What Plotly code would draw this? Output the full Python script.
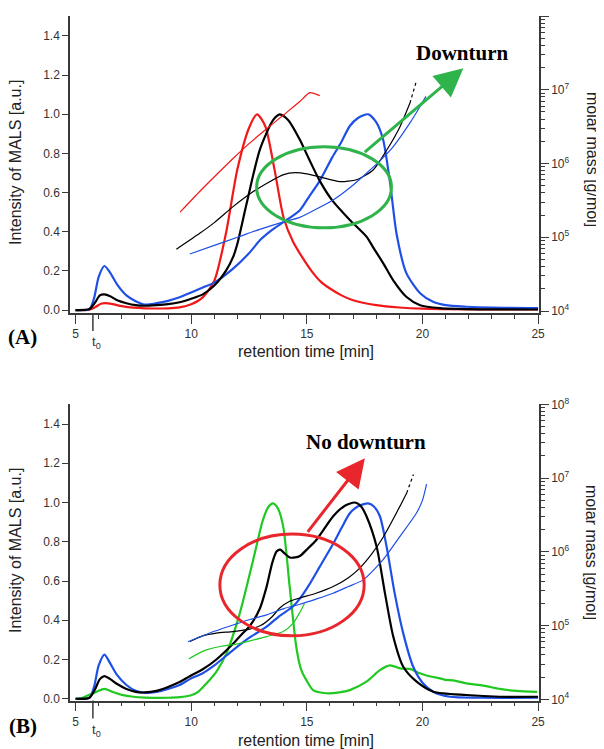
import plotly.graph_objects as go

# ---- Panel A: MALS intensity (left axis) ----
a_red_x = [5.0, 5.6, 5.85, 6.1, 6.3, 6.6, 7.0, 7.5, 8.0, 9.0, 9.5, 10.0, 10.5, 11.0, 11.5, 12.0, 12.5, 12.85,
           13.2, 13.6, 14.0, 14.4, 14.8, 15.2, 15.6, 16.0, 16.5, 17.0, 18.0, 19.0, 20.0, 22.0, 25.0]
a_red_y = [0.0, 0.002, 0.015, 0.032, 0.035, 0.03, 0.02, 0.012, 0.009, 0.009, 0.014, 0.03, 0.065, 0.15, 0.39, 0.72,
           0.93, 1.0, 0.94, 0.72, 0.47, 0.35, 0.27, 0.2, 0.145, 0.11, 0.075, 0.05, 0.025, 0.013, 0.007, 0.004, 0.003]

a_black_x = [5.0, 5.6, 5.85, 6.05, 6.25, 6.5, 6.8, 7.2, 7.6, 8.0, 8.5, 9.0, 9.5, 10.0, 10.5, 11.0, 11.5, 11.81,
             12.0, 12.39, 12.97, 13.54, 13.83, 14.2, 14.7, 15.1, 15.56, 16.1, 16.86, 17.58, 17.87, 18.3, 18.73,
             19.3, 19.9, 20.76, 22.0, 25.0]
a_black_y = [0.0, 0.005, 0.04, 0.075, 0.08, 0.07, 0.05, 0.035, 0.025, 0.022, 0.025, 0.03, 0.04, 0.058, 0.08, 0.125,
             0.2, 0.27, 0.34, 0.54, 0.82, 0.97, 1.0, 0.97, 0.87, 0.77, 0.66, 0.56, 0.46, 0.375, 0.32, 0.24, 0.153,
             0.068, 0.025, 0.01, 0.005, 0.003]

a_blue_x = [5.0, 5.6, 5.8, 6.0, 6.25, 6.5, 6.8, 7.2, 7.6, 8.0, 8.5, 9.0, 9.5, 10.0, 10.5, 11.0, 11.8, 12.5, 13.0,
            13.5, 14.0, 14.7, 15.1, 15.56, 16.1, 16.5, 16.86, 17.2, 17.65, 18.0, 18.3, 18.6, 18.88, 19.3, 19.9,
            20.46, 21.0, 21.9, 23.0, 25.0]
a_blue_y = [0.0, 0.005, 0.06, 0.17, 0.225, 0.19, 0.13, 0.075, 0.045, 0.028, 0.035, 0.047, 0.065, 0.09, 0.115, 0.14,
            0.21, 0.29, 0.36, 0.41, 0.45, 0.51, 0.58, 0.66, 0.78, 0.86, 0.94, 0.98, 1.0, 0.96, 0.87, 0.65, 0.39,
            0.19, 0.086, 0.042, 0.025, 0.017, 0.012, 0.01]

# ---- Panel A: molar mass (right axis, g/mol) ----
a_red_mm_x = [9.52, 10.4, 11.2, 11.81, 12.5, 13.26, 14.0, 14.7, 15.13, 15.56]
a_red_mm_y = [2.19e5, 4.27e5, 7.6e5, 1.17e6, 1.86e6, 2.95e6, 4.57e6, 6.92e6, 9.12e6, 8.32e6]

a_black_mm_x = [9.36, 10.37, 11.0, 11.81, 12.5, 13.26, 14.0, 14.5, 15.0, 15.56, 16.43, 17.15, 17.87, 18.45, 19.03,
                19.46]
a_black_mm_y = [6.87e4, 1.13e5, 1.58e5, 2.6e5, 3.8e5, 5.37e5, 7.08e5, 7.5e5, 7.24e5, 6.6e5, 5.68e5, 6.03e5, 8.18e5,
                1.51e6, 3.16e6, 6.6e6]
a_black_mm_tail_x = [19.46, 19.75]
a_black_mm_tail_y = [6.6e6, 1.35e7]

a_blue_mm_x = [9.94, 11.0, 12.0, 13.0, 14.0, 14.7, 15.4, 16.14, 16.9, 17.58, 18.2, 18.74, 19.46, 19.89, 20.15]
a_blue_mm_y = [5.93e4, 7.76e4, 1.0e5, 1.29e5, 1.62e5, 1.86e5, 2.4e5, 3.2e5, 4.8e5, 7.38e5, 1.12e6, 1.7e6, 3.55e6,
               5.89e6, 8.13e6]

# ---- Panel B: MALS intensity (left axis) ----
b_blue_x = [5.0, 5.6, 5.8, 6.0, 6.25, 6.5, 6.8, 7.2, 7.6, 8.0, 8.5, 9.0, 9.5, 9.94, 10.5, 11.0, 11.81, 12.5, 13.26,
            13.8, 14.4, 14.7, 15.1, 15.56, 16.14, 16.5, 16.86, 17.2, 17.65, 17.9, 18.16, 18.45, 18.8, 19.17, 19.6,
            20.03, 20.47, 21.19, 22.5, 25.0]
b_blue_y = [0.0, 0.005, 0.06, 0.17, 0.225, 0.18, 0.12, 0.07, 0.04, 0.03, 0.035, 0.05, 0.07, 0.1, 0.13, 0.17, 0.248,
            0.31, 0.367, 0.42, 0.47, 0.51, 0.58, 0.673, 0.79, 0.87, 0.945, 0.98, 0.996, 0.98, 0.93, 0.775, 0.537,
            0.333, 0.163, 0.078, 0.036, 0.01, 0.005, 0.005]

b_black_x = [5.0, 5.6, 5.85, 6.05, 6.25, 6.5, 6.8, 7.2, 7.6, 8.0, 8.5, 9.0, 9.5, 9.94, 10.5, 11.09, 11.81, 12.2,
             12.53, 12.97, 13.26, 13.5, 13.69, 13.85, 14.0, 14.26, 14.5, 14.7, 15.0, 15.42, 16.14, 16.6, 17.08,
             17.35, 17.58, 18.02, 18.38, 18.74, 19.17, 19.75, 20.47, 21.9, 23.35, 25.0]
b_black_y = [0.0, 0.005, 0.05, 0.1, 0.115, 0.1, 0.075, 0.05, 0.035, 0.032, 0.04, 0.06, 0.085, 0.115, 0.15, 0.2,
             0.28, 0.33, 0.37, 0.46, 0.57, 0.69, 0.75, 0.76, 0.745, 0.72, 0.72, 0.727, 0.76, 0.81, 0.93, 0.98, 1.0,
             0.98, 0.93, 0.775, 0.537, 0.316, 0.163, 0.087, 0.036, 0.019, 0.01, 0.01]

b_green_x = [5.0, 5.3, 5.6, 5.9, 6.25, 6.6, 7.0, 7.5, 8.0, 9.0, 9.5, 10.0, 10.3, 10.66, 11.1, 11.52, 12.1, 12.68,
             13.1, 13.35, 13.54, 13.75, 13.98, 14.26, 14.55, 14.75, 14.98, 15.27, 15.85, 16.4, 16.86, 17.58, 18.16,
             18.6, 19.03, 19.46, 19.89, 20.4, 20.76, 21.0, 21.33, 21.9, 22.63, 23.35, 24.07, 24.96]
b_green_y = [0.0, 0.005, 0.02, 0.035, 0.05, 0.035, 0.02, 0.01, 0.006, 0.005, 0.008, 0.018, 0.035, 0.078, 0.14,
             0.23, 0.435, 0.707, 0.91, 0.98, 0.996, 0.97, 0.877, 0.57, 0.26, 0.15, 0.095, 0.044, 0.028, 0.032,
             0.044, 0.087, 0.146, 0.17, 0.155, 0.152, 0.13, 0.112, 0.104, 0.096, 0.094, 0.078, 0.067, 0.05, 0.04,
             0.035]

# ---- Panel B: molar mass (right axis, g/mol) ----
b_black_mm_x = [9.94, 10.5, 11.09, 11.8, 12.53, 13.0, 13.5, 13.83, 14.26, 14.7, 15.4, 16.14, 16.8, 17.29, 17.8,
                18.3, 19.03, 19.32]
b_black_mm_y = [6.08e4, 7.24e4, 7.9e4, 8.3e4, 8.95e4, 1.0e5, 1.32e5, 1.73e5, 2.14e5, 2.37e5, 2.75e5, 3.39e5,
                4.47e5, 6.03e5, 9.3e5, 1.58e6, 4.17e6, 6.3e6]
b_black_mm_tail_x = [19.32, 19.61]
b_black_mm_tail_y = [6.3e6, 1.12e7]

b_blue_mm_x = [9.86, 10.8, 11.81, 12.5, 13.26, 14.0, 14.7, 15.4, 16.14, 16.8, 17.44, 18.3, 19.03, 19.75, 20.0, 20.18]
b_blue_mm_y = [6.03e4, 7.94e4, 1.02e5, 1.2e5, 1.4e5, 1.7e5, 1.95e5, 2.29e5, 2.75e5, 3.39e5, 4.17e5, 7.85e5,
               1.62e6, 3.39e6, 5.0e6, 8.3e6]

b_green_mm_x = [9.9, 10.3, 10.66, 11.3, 11.81, 12.5, 13.26, 13.98, 14.4, 14.7, 14.9]
b_green_mm_y = [3.53e4, 4.17e4, 4.68e4, 5.25e4, 5.5e4, 6.17e4, 7.08e4, 8.3e4, 1.07e5, 1.51e5, 2.0e5]

mm_tickvals = [1e4, 1e5, 1e6, 1e7, 1e8]
mm_ticktext = ['10<sup>4</sup>', '10<sup>5</sup>', '10<sup>6</sup>', '10<sup>7</sup>', '10<sup>8</sup>']
mm_minor = [m * 10 ** e for e in range(4, 8) for m in range(2, 10)]

RED = '#f01818'
BLUE = '#1f50e6'
BLACK = '#000000'
GREEN = '#22c822'
AX = '#3a3a3a'
SANS = 'Liberation Sans, Arial, sans-serif'
SERIF = 'Liberation Serif, Times New Roman, serif'

W, H = 604, 749
OFF = 8  # page body margin offsets the figure


def px(x):
    return (x - OFF) / W


def py(y):
    return 1 - (y - OFF) / H


fig = go.Figure()


def thick(x, y, color, xa, ya):
    fig.add_trace(go.Scatter(x=x, y=y, mode='lines', xaxis=xa, yaxis=ya,
                             line=dict(color=color, width=2.2, shape='spline', smoothing=0.7)))


def thin(x, y, color, xa, ya, dash='solid'):
    fig.add_trace(go.Scatter(x=x, y=y, mode='lines', xaxis=xa, yaxis=ya,
                             line=dict(color=color, width=1.2, shape='spline', smoothing=0.6, dash=dash)))


# panel A
thin(a_red_mm_x, a_red_mm_y, RED, 'x', 'y2')
thin(a_black_mm_x, a_black_mm_y, BLACK, 'x', 'y2')
thin(a_black_mm_tail_x, a_black_mm_tail_y, BLACK, 'x', 'y2', dash='dot')
thin(a_blue_mm_x, a_blue_mm_y, BLUE, 'x', 'y2')
thick(a_red_x, a_red_y, RED, 'x', 'y')
thick(a_blue_x, a_blue_y, BLUE, 'x', 'y')
thick(a_black_x, a_black_y, BLACK, 'x', 'y')

# panel B
thin(b_green_mm_x, b_green_mm_y, GREEN, 'x2', 'y4')
thin(b_black_mm_x, b_black_mm_y, BLACK, 'x2', 'y4')
thin(b_black_mm_tail_x, b_black_mm_tail_y, BLACK, 'x2', 'y4', dash='dot')
thin(b_blue_mm_x, b_blue_mm_y, BLUE, 'x2', 'y4')
thick(b_green_x, b_green_y, GREEN, 'x2', 'y3')
thick(b_blue_x, b_blue_y, BLUE, 'x2', 'y3')
thick(b_black_x, b_black_y, BLACK, 'x2', 'y3')

xdom = [px(70), px(539)]
dom_a = [py(313), py(16)]
dom_b = [py(700.5), py(404.4)]

tickfont = dict(family=SANS, size=12, color='#333')

xaxis_common = dict(range=[4.76, 25.04], domain=xdom, showline=True, linecolor=AX, linewidth=1.5,
                    showgrid=False, zeroline=False, ticks='outside', ticklen=9, tickwidth=1.2, tickcolor=AX,
                    tickvals=[5, 10, 15, 20, 25], tickfont=tickfont, automargin=False,
                    minor=dict(ticks='outside', ticklen=4, tickwidth=1.2, tickcolor=AX, dtick=1, tick0=0))
ly_common = dict(showline=True, linecolor=AX, linewidth=1.5, showgrid=False, zeroline=False,
                 ticks='outside', ticklen=6, tickwidth=1.2, tickcolor=AX, automargin=False,
                 tickvals=[0, 0.2, 0.4, 0.6, 0.8, 1.0, 1.2, 1.4],
                 ticktext=['0.0', '0.2', '0.4', '0.6', '0.8', '1.0', '1.2', '1.4'], tickfont=tickfont)
ry_common = dict(type='log', side='right', showline=True, linecolor=AX, linewidth=1.5, showgrid=False,
                 zeroline=False, ticks='outside', ticklen=8, tickwidth=1.2, tickcolor=AX, automargin=False,
                 tickvals=mm_tickvals, ticktext=mm_ticktext, tickfont=tickfont,
                 minor=dict(ticks='outside', ticklen=4, tickwidth=1, tickcolor=AX, tickvals=mm_minor))

fig.update_layout(
    width=W, height=H, margin=dict(l=0, r=0, t=0, b=0, autoexpand=False),
    paper_bgcolor='white', plot_bgcolor='white', showlegend=False,
    xaxis=dict(anchor='y', **xaxis_common),
    yaxis=dict(domain=dom_a, range=[-0.015, 1.502], anchor='x', **ly_common),
    yaxis2=dict(domain=dom_a, range=[3.973, 8.0], anchor='x', overlaying='y', **ry_common),
    xaxis2=dict(anchor='y3', **xaxis_common),
    yaxis3=dict(domain=dom_b, range=[-0.009, 1.5], anchor='x2', **ly_common),
    yaxis4=dict(domain=dom_b, range=[3.984, 8.0], anchor='x2', overlaying='y3', **ry_common),
)

# ellipses
fig.add_shape(type='circle', xref='x', yref='y', x0=12.83, x1=18.66, y0=0.42, y1=0.834,
              line=dict(color='#2fb34b', width=3))
fig.add_shape(type='circle', xref='x2', yref='y3', x0=11.24, x1=17.48, y0=0.321, y1=0.839,
              line=dict(color='#e8262b', width=3))

# t0 marks
for y0, y1 in [(py(313), py(331)), (py(700.5), py(718.5))]:
    fig.add_shape(type='line', xref='x', yref='paper', x0=5.75, x1=5.75, y0=y0, y1=y1,
                  line=dict(color=AX, width=1.5))

C = dict(xanchor='center', yanchor='middle', showarrow=False)
ann = []
# arrows
ann.append(dict(x=21.77, y=1.235, ax=17.44, ay=0.80, xref='x', yref='y', axref='x', ayref='y', text='',
                showarrow=True, arrowhead=2, arrowsize=1.9, arrowwidth=3, arrowcolor='#2fb34b'))
ann.append(dict(x=17.51, y=1.225, ax=14.99, ay=0.843, xref='x2', yref='y3', axref='x2', ayref='y3', text='',
                showarrow=True, arrowhead=2, arrowsize=1.9, arrowwidth=3, arrowcolor='#e8262b'))
# callout labels
ann.append(dict(x=21.75, y=1.313, xref='x', yref='y', text='<b>Downturn</b>',
                font=dict(family=SERIF, size=21, color='black'), **C))
ann.append(dict(x=17.55, y=1.307, xref='x2', yref='y3', text='<b>No downturn</b>',
                font=dict(family=SERIF, size=21, color='black'), **C))
# panel labels
ann.append(dict(x=px(22.5), y=py(337), xref='paper', yref='paper', text='<b>(A)</b>',
                font=dict(family=SERIF, size=21, color='black'), **C))
ann.append(dict(x=px(23), y=py(725.5), xref='paper', yref='paper', text='<b>(B)</b>',
                font=dict(family=SERIF, size=21, color='black'), **C))
# t0 labels
for yy in [342, 730]:
    ann.append(dict(x=px(96), y=py(yy), xref='paper', yref='paper', text='t<sub>0</sub>',
                    font=dict(family=SANS, size=13, color='#333'), **C))
# axis titles
for yy in [163, 551]:
    ann.append(dict(x=px(15), y=py(yy), xref='paper', yref='paper', text='Intensity of MALS [a.u.]',
                    textangle=-90, font=dict(family=SANS, size=16, color='#222'), **C))
for yy in [159, 552]:
    ann.append(dict(x=px(592), y=py(yy), xref='paper', yref='paper', text='molar mass [g/mol]',
                    textangle=90, font=dict(family=SANS, size=16, color='#222'), **C))
for yy in [352, 740]:
    ann.append(dict(x=px(306), y=py(yy), xref='paper', yref='paper', text='retention time [min]',
                    font=dict(family=SANS, size=16, color='#222'), **C))

fig.update_layout(annotations=ann)

fig.write_html("out.html")
